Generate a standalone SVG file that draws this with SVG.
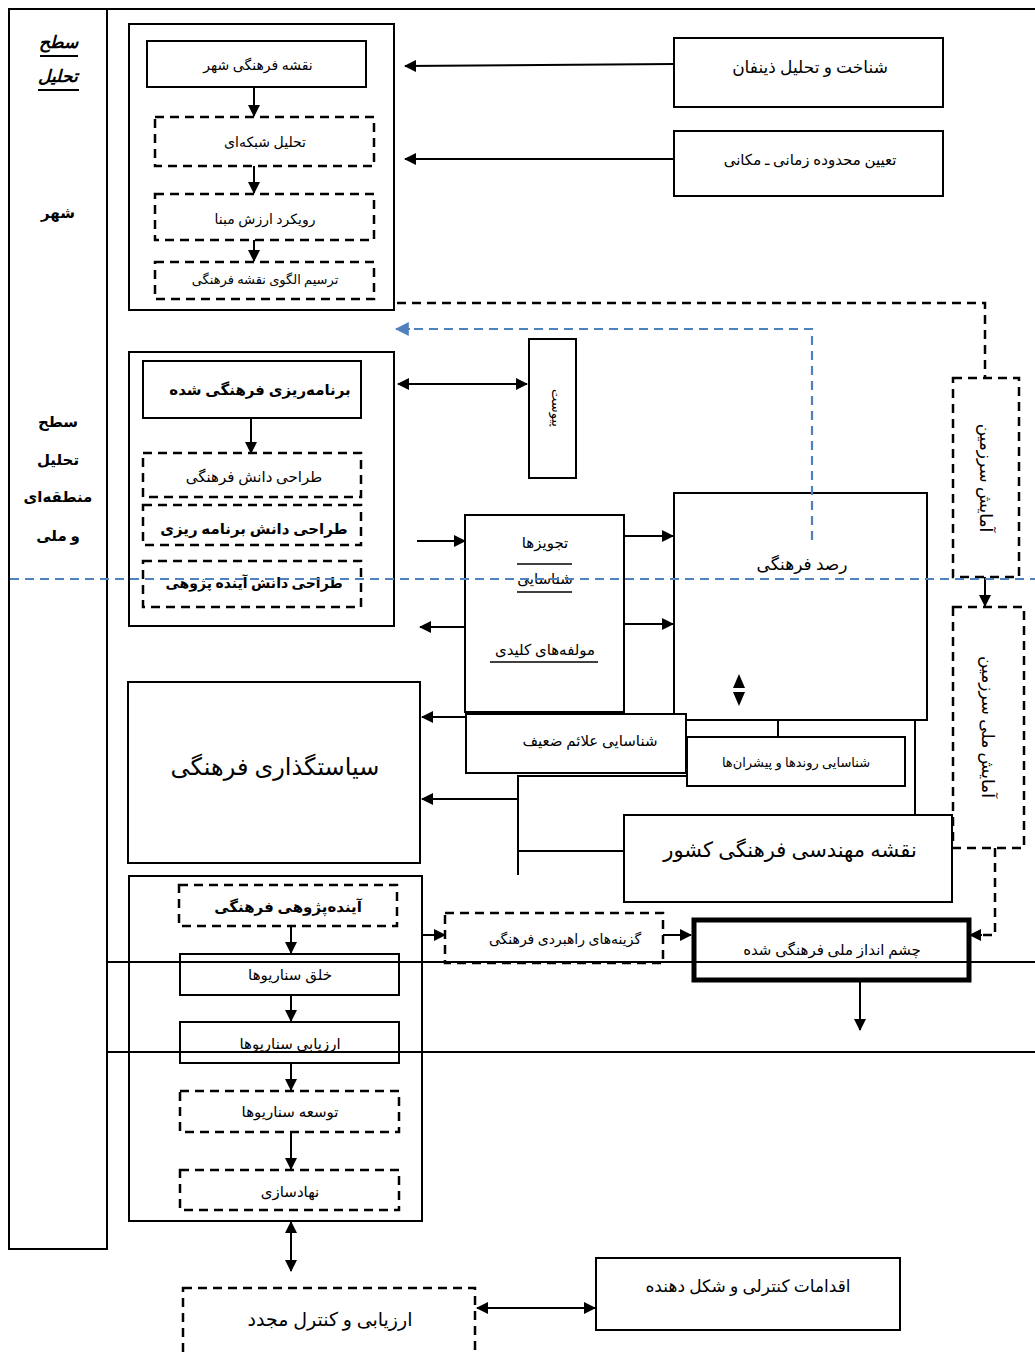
<svg xmlns="http://www.w3.org/2000/svg" width="1035" height="1353" viewBox="0 0 1035 1353">
<style>
.s{fill:#fff;stroke:#000;stroke-width:2}
.d{fill:#fff;stroke:#000;stroke-width:2.5;stroke-dasharray:9,6}
.g{fill:none;stroke:#000;stroke-width:1.6}
.c{fill:none;stroke:#000;stroke-width:2}
.cd{fill:none;stroke:#000;stroke-width:2.5;stroke-dasharray:9,6}
.bl{fill:none;stroke:#4f81bd;stroke-width:2.2;stroke-dasharray:9,6}
text{font-family:"Liberation Serif","DejaVu Sans",serif;fill:#000;text-anchor:middle}
.t13{font-size:13px}
.t14{font-size:14px}
.t15{font-size:15px}
.t17{font-size:17px}
.b{font-weight:bold}
</style>
<defs>
<marker id="a" viewBox="0 0 12 12" markerWidth="12" markerHeight="12" refX="11" refY="6" orient="auto-start-reverse" markerUnits="userSpaceOnUse"><path d="M0,0L12,6L0,12z" fill="#000"/></marker>
<marker id="ab" viewBox="0 0 12 12" markerWidth="14" markerHeight="14" refX="11" refY="6" orient="auto" markerUnits="userSpaceOnUse"><path d="M0,0L12,6L0,12z" fill="#4f81bd"/></marker>
</defs>
<rect width="1035" height="1353" fill="#fff"/>

<g id="frame">
<line x1="9" y1="9" x2="1035" y2="9" class="c"/>
<rect x="9" y="9" width="98" height="1240" style="fill:none;stroke:#000;stroke-width:2"/>
</g>

<g id="levels">
<text x="58" y="48" class="t17 b" font-style="italic">سطح</text>
<line x1="40" y1="56" x2="78" y2="56" class="c"/>
<text x="58" y="82" class="t17 b" font-style="italic">تحلیل</text>
<line x1="38" y1="90" x2="79" y2="90" class="c"/>
<text x="58" y="218" class="t15 b">شهر</text>
<text x="58" y="427" class="t15 b">سطح</text>
<text x="58" y="465" class="t15 b">تحلیل</text>
<text x="58" y="502" class="t15 b">منطقه‌ای</text>
<text x="58" y="541" class="t15 b">و ملی</text>
</g>

<g id="city-group">
<rect x="129" y="24" width="265" height="286" class="s"/>
</g>
<g id="n-city-map"><rect x="147" y="41" width="219" height="46" class="s"/><text x="258" y="70" class="t14">نقشه فرهنگی شهر</text></g>
<g id="n-network"><rect x="155" y="117" width="219" height="49" class="d"/><text x="265" y="147" class="t14">تحلیل شبکه‌ای</text></g>
<g id="n-value"><rect x="155" y="194" width="219" height="46" class="d"/><text x="265" y="224" class="t14">رویکرد ارزش مبنا</text></g>
<g id="n-pattern"><rect x="155" y="262" width="219" height="37" class="d"/><text x="265" y="284" class="t13">ترسیم الگوی نقشه فرهنگی</text></g>

<g id="n-stakeholders"><rect x="674" y="38" width="269" height="69" class="s"/><text x="810" y="73" class="t17">شناخت و تحلیل ذینفان</text></g>
<g id="n-scope"><rect x="674" y="131" width="269" height="65" class="s"/><text x="810" y="165" class="t15">تعیین محدوده زمانی ـ مکانی</text></g>

<g id="planning-group"><rect x="129" y="352" width="265" height="274" class="s"/></g>
<g id="n-planning"><rect x="143" y="361" width="218" height="57" class="s"/><text x="260" y="395" class="t15 b">برنامه‌ریزی فرهنگی شده</text></g>
<g id="n-k1"><rect x="143" y="453" width="218" height="44" class="d"/><text x="254" y="482" class="t15">طراحی دانش فرهنگی</text></g>
<g id="n-k2"><rect x="143" y="505" width="218" height="40" class="d"/><text x="254" y="534" class="t15 b">طراحی دانش برنامه ریزی</text></g>
<g id="n-k3"><rect x="143" y="561" width="218" height="46" class="d"/><text x="254" y="588" class="t14 b">طراحی دانش آینده پژوهی</text></g>

<g id="n-appendix"><rect x="529" y="339" width="47" height="139" class="s"/><text transform="translate(552,408) rotate(90)" class="t13">پیوست</text></g>

<g id="n-prescriptions"><rect x="465" y="515" width="159" height="197" class="s"/>
<text x="545" y="548" class="t15">تجویزها</text><line x1="517" y1="564" x2="572" y2="564" class="g"/>
<text x="545" y="584" class="t15">شناسایی</text><line x1="517" y1="592" x2="572" y2="592" class="g"/>
<text x="545" y="655" class="t15">مولفه‌های کلیدی</text><line x1="490" y1="662" x2="598" y2="662" class="g"/></g>

<g id="n-observatory"><rect x="674" y="493" width="253" height="227" class="s"/><text x="802" y="570" class="t17">رصد فرهنگی</text></g>

<g id="n-weak"><rect x="466" y="714" width="220" height="59" class="s"/><text x="590" y="746" class="t15">شناسایی علائم ضعیف</text></g>
<g id="n-trends"><rect x="687" y="737" width="218" height="49" class="s"/><text x="796" y="767" class="t13">شناسایی روندها و پیشران‌ها</text></g>

<g id="n-policy"><rect x="128" y="682" width="292" height="181" class="s"/><text x="275" y="775" style="font-size:24px">سیاستگذاری فرهنگی</text></g>
<g id="n-engineering"><rect x="624" y="815" width="328" height="87" class="s"/><text x="790" y="857" style="font-size:21px">نقشه مهندسی فرهنگی کشور</text></g>

<g id="n-spatial"><rect x="953" y="378" width="66" height="199" class="d"/><text transform="translate(986,478) rotate(90)" class="t17" dy="6">آمایش   سرزمین</text></g>
<g id="n-national-spatial"><rect x="953" y="607" width="71" height="241" class="d"/><text transform="translate(988,727) rotate(90)" class="t17" dy="6">آمایش  ملی  سرزمین</text></g>

<g id="futures-group"><rect x="129" y="876" width="293" height="345" class="s"/></g>
<g id="n-futures"><rect x="179" y="885" width="218" height="41" class="d"/><text x="288" y="912" class="t15 b">آینده‌پژوهی فرهنگی</text></g>
<g id="n-create"><rect x="180" y="954" width="219" height="41" class="s"/><text x="290" y="980" class="t15">خلق سناریوها</text></g>
<g id="n-assess"><rect x="180" y="1022" width="219" height="41" class="s"/><text x="290" y="1049" class="t15">ارزیابی سناریوها</text></g>
<g id="n-develop"><rect x="180" y="1091" width="219" height="41" class="d"/><text x="290" y="1117" class="t15">توسعه سناریوها</text></g>
<g id="n-institution"><rect x="180" y="1170" width="219" height="40" class="d"/><text x="290" y="1197" class="t15">نهادسازی</text></g>

<g id="n-options"><rect x="445" y="913" width="218" height="50" class="d"/><text x="565" y="944" class="t14">گزینه‌های راهبردی فرهنگی</text></g>
<g id="n-vision"><rect x="694" y="920" width="275" height="60" fill="#fff" stroke="#000" stroke-width="5"/><text x="832" y="955" class="t15">چشم انداز ملی فرهنگی شده</text></g>

<g id="n-reassess"><rect x="183" y="1288" width="292" height="70" class="d"/><text x="330" y="1326" style="font-size:19px">ارزیابی و کنترل مجدد</text></g>
<g id="n-actions"><rect x="596" y="1258" width="304" height="72" class="s"/><text x="748" y="1292" class="t17">اقدامات کنترلی و شکل دهنده</text></g>

<g id="connectors">
<line x1="107" y1="962" x2="1035" y2="962" class="c"/>
<line x1="107" y1="1052" x2="1035" y2="1052" class="c"/>
<line x1="254" y1="87" x2="254" y2="116" class="c" marker-end="url(#a)"/>
<line x1="254" y1="166" x2="254" y2="193" class="c" marker-end="url(#a)"/>
<line x1="254" y1="240" x2="254" y2="261" class="c" marker-end="url(#a)"/>
<line x1="674" y1="64" x2="405" y2="66" class="c" marker-end="url(#a)"/>
<line x1="674" y1="159" x2="405" y2="159" class="c" marker-end="url(#a)"/>
<polyline points="397,303 985,303 985,378" class="cd"/>
<line x1="985" y1="577" x2="985" y2="606" class="c" marker-end="url(#a)"/>
<polyline points="995,848 995,935 980,935" class="cd"/>
<line x1="982" y1="935" x2="970" y2="935" class="c" marker-end="url(#a)"/>
<polyline points="812,540 812,329 408,329" class="bl"/>
<line x1="410" y1="329" x2="396" y2="329" stroke="#4f81bd" stroke-width="2" marker-end="url(#ab)"/>
<line x1="10" y1="579" x2="1035" y2="579" class="bl"/>
<line x1="251" y1="418" x2="251" y2="453" class="c" marker-end="url(#a)"/>
<line x1="398" y1="384" x2="527" y2="384" class="c" marker-start="url(#a)" marker-end="url(#a)"/>
<line x1="417" y1="541" x2="465" y2="541" class="c" marker-end="url(#a)"/>
<line x1="624" y1="536" x2="673" y2="536" class="c" marker-end="url(#a)"/>
<line x1="624" y1="624" x2="673" y2="624" class="c" marker-end="url(#a)"/>
<line x1="465" y1="627" x2="420" y2="627" class="c" marker-end="url(#a)"/>
<line x1="466" y1="717" x2="422" y2="717" class="c" marker-end="url(#a)"/>
<line x1="778" y1="720" x2="778" y2="737" class="c"/>
<line x1="915" y1="720" x2="915" y2="815" class="c"/>
<polyline points="687,776 518,776 518,875" class="c"/>
<line x1="518" y1="799" x2="422" y2="799" class="c" marker-end="url(#a)"/>
<line x1="518" y1="851" x2="624" y2="851" class="c"/>
<path d="M733,688L739,674L745,688z M733,692L739,706L745,692z" fill="#000"/>
<line x1="291" y1="926" x2="291" y2="953" class="c" marker-end="url(#a)"/>
<line x1="291" y1="995" x2="291" y2="1021" class="c" marker-end="url(#a)"/>
<line x1="291" y1="1063" x2="291" y2="1090" class="c" marker-end="url(#a)"/>
<line x1="291" y1="1132" x2="291" y2="1169" class="c" marker-end="url(#a)"/>
<line x1="422" y1="935" x2="445" y2="935" class="c" marker-end="url(#a)"/>
<line x1="663" y1="935" x2="691" y2="935" class="c" marker-end="url(#a)"/>
<line x1="860" y1="982" x2="860" y2="1030" class="c" marker-end="url(#a)"/>
<line x1="291" y1="1222" x2="291" y2="1271" class="c" marker-start="url(#a)" marker-end="url(#a)"/>
<line x1="477" y1="1308" x2="595" y2="1308" class="c" marker-start="url(#a)" marker-end="url(#a)"/>
</g>
</svg>
